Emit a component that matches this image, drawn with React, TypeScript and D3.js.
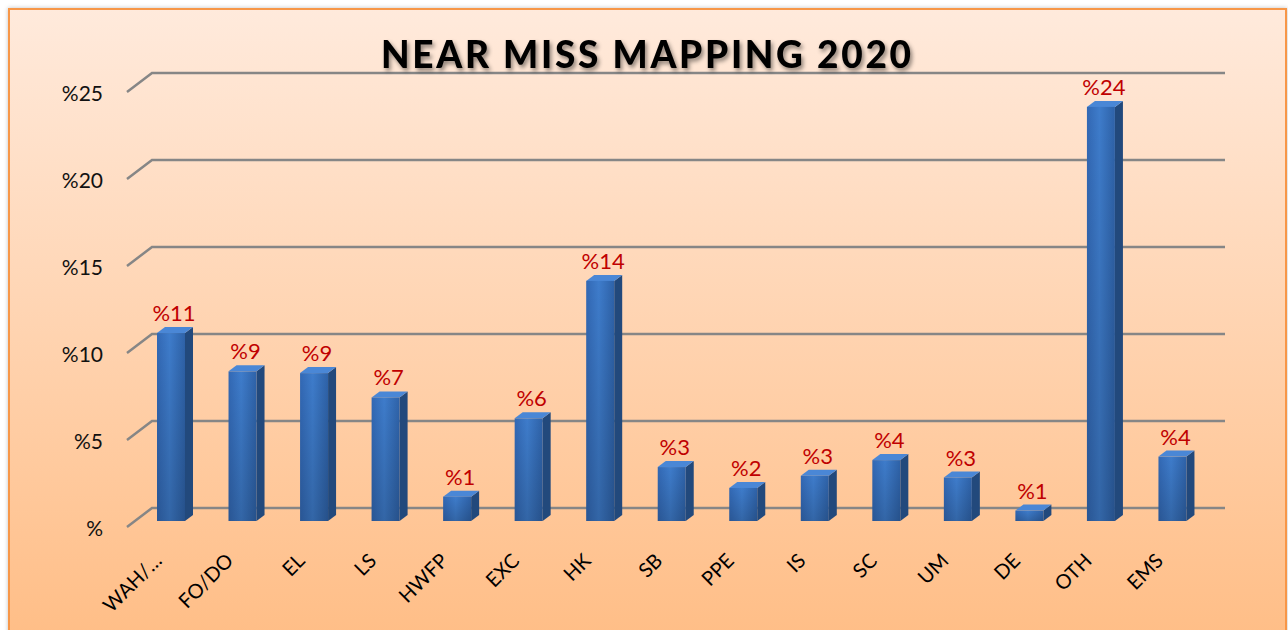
import React, { useEffect, useRef } from "react";
import * as d3 from "d3";

const title = "NEAR MISS MAPPING 2020";
const categories = ["WAH/…", "FO/DO", "EL", "LS", "HWFP", "EXC", "HK", "SB", "PPE", "IS", "SC", "UM", "DE", "OTH", "EMS"];
const values = [10.8, 8.6, 8.5, 7.1, 1.4, 5.9, 13.8, 3.1, 1.9, 2.6, 3.5, 2.5, 0.6, 23.8, 3.7];
const yTicks = [0, 5, 10, 15, 20, 25];

const App = () => {
    const svgRef = useRef(null);

    useEffect(() => {
        const width = 1288, height = 630;
        const font = "Lato, 'Open Sans', sans-serif";

        // back wall of the 3d plot, floor depth shown by the slanted lines
        const back = { left: 152, right: 1225, top: 73, bottom: 508 };
        const depth = { dx: -25, dy: 19 };
        const barDrop = 13; // bars sit this much below the back floor line
        const bar = { offset: 5, w: 28, dx: 8, dy: -6 };

        const svg = d3.select(svgRef.current)
            .attr("width", width)
            .attr("height", height);

        svg.selectAll("*").remove();

        const defs = svg.append("defs");

        const bg = defs.append("linearGradient").attr("id", "bg").attr("x1", 0).attr("y1", 0).attr("x2", 0).attr("y2", 1);
        bg.append("stop").attr("offset", "0%").attr("stop-color", "#ffeadc");
        bg.append("stop").attr("offset", "100%").attr("stop-color", "#ffbd85");

        const front = defs.append("linearGradient").attr("id", "barFront").attr("x1", 0).attr("y1", 0).attr("x2", 1).attr("y2", 0);
        front.append("stop").attr("offset", "0%").attr("stop-color", "#3268b4");
        front.append("stop").attr("offset", "45%").attr("stop-color", "#3e7ccb");
        front.append("stop").attr("offset", "100%").attr("stop-color", "#2e62a8");

        const shade = defs.append("linearGradient").attr("id", "barShade").attr("x1", 0).attr("y1", 0).attr("x2", 0).attr("y2", 1);
        shade.append("stop").attr("offset", "0%").attr("stop-color", "#000").attr("stop-opacity", 0);
        shade.append("stop").attr("offset", "100%").attr("stop-color", "#000").attr("stop-opacity", 0.18);

        const ds = defs.append("filter").attr("id", "titleShadow").attr("x", "-10%").attr("y", "-30%").attr("width", "120%").attr("height", "160%");
        ds.append("feDropShadow").attr("dx", 2).attr("dy", 3).attr("stdDeviation", 2)
            .attr("flood-color", "#000").attr("flood-opacity", 0.45);

        const boxShadow = defs.append("filter").attr("id", "boxShadow").attr("x", "-2%").attr("y", "-2%").attr("width", "104%").attr("height", "104%");
        boxShadow.append("feDropShadow").attr("dx", 0).attr("dy", 0).attr("stdDeviation", 2)
            .attr("flood-color", "#000").attr("flood-opacity", 0.25);

        svg.append("rect")
            .attr("x", 9).attr("y", 9)
            .attr("width", 1277).attr("height", 640)
            .attr("fill", "url(#bg)")
            .attr("stroke", "#f79646")
            .attr("stroke-width", 2)
            .attr("filter", "url(#boxShadow)");

        const xScale = d3.scaleBand()
            .domain(categories)
            .range([back.left, back.right])
            .padding(0);

        const yScale = d3.scaleLinear()
            .domain([0, 25])
            .range([back.bottom, back.top]);

        // gridlines with the slanted floor edge on the left
        const grid = svg.append("g");
        grid.selectAll("path")
            .data(yTicks)
            .enter()
            .append("path")
            .attr("d", d => {
                const y = yScale(d);
                return `M${back.left + depth.dx},${y + depth.dy} L${back.left},${y} L${back.right},${y}`;
            })
            .attr("fill", "none")
            .attr("stroke", "#868686")
            .attr("stroke-width", 2.5);

        grid.selectAll("text")
            .data(yTicks)
            .enter()
            .append("text")
            .attr("x", 103)
            .attr("y", d => yScale(d) + depth.dy + 9)
            .attr("text-anchor", "end")
            .attr("font-family", font)
            .attr("font-size", 21)
            .attr("fill", "#111")
            .text(d => "%" + (d === 0 ? "" : d));

        // title
        svg.append("text")
            .attr("x", 646)
            .attr("y", 68)
            .attr("text-anchor", "middle")
            .attr("font-family", font)
            .attr("font-weight", 900)
            .attr("font-size", 37)
            .attr("textLength", 530)
            .attr("lengthAdjust", "spacing")
            .attr("fill", "#000")
            .attr("filter", "url(#titleShadow)")
            .text(title);

        const barData = categories.map((c, i) => ({ c, v: values[i] }));
        const baseY = back.bottom + barDrop;
        const topY = v => yScale(v) + barDrop;

        const bars = svg.append("g")
            .selectAll("g")
            .data(barData)
            .enter()
            .append("g");

        // side face
        bars.append("path")
            .attr("d", d => {
                const x1 = xScale(d.c) + bar.offset + bar.w, t = topY(d.v);
                return `M${x1},${t} L${x1 + bar.dx},${t + bar.dy} L${x1 + bar.dx},${baseY + bar.dy} L${x1},${baseY} Z`;
            })
            .attr("fill", "#22497c");

        // top face
        bars.append("path")
            .attr("d", d => {
                const x0 = xScale(d.c) + bar.offset, t = topY(d.v);
                return `M${x0},${t} L${x0 + bar.dx},${t + bar.dy} L${x0 + bar.w + bar.dx},${t + bar.dy} L${x0 + bar.w},${t} Z`;
            })
            .attr("fill", "#4a87d6");

        // front face
        bars.append("rect")
            .attr("x", d => xScale(d.c) + bar.offset)
            .attr("y", d => topY(d.v))
            .attr("width", bar.w)
            .attr("height", d => baseY - topY(d.v))
            .attr("fill", "url(#barFront)");

        bars.append("rect")
            .attr("x", d => xScale(d.c) + bar.offset)
            .attr("y", d => topY(d.v))
            .attr("width", bar.w)
            .attr("height", d => baseY - topY(d.v))
            .attr("fill", "url(#barShade)");

        // value labels
        svg.append("g")
            .selectAll("text")
            .data(barData)
            .enter()
            .append("text")
            .attr("x", d => xScale(d.c) + bar.offset + bar.w / 2 + 3)
            .attr("y", d => topY(d.v) + bar.dy - 6)
            .attr("text-anchor", "middle")
            .attr("font-family", font)
            .attr("font-size", 22)
            .attr("fill", "#c00000")
            .text(d => "%" + Math.round(d.v));

        // category labels, rotated
        svg.append("g")
            .selectAll("text")
            .data(categories)
            .enter()
            .append("text")
            .attr("transform", d => `translate(${xScale(d) + 11},${562}) rotate(-45)`)
            .attr("text-anchor", "end")
            .attr("font-family", font)
            .attr("font-size", 20)
            .attr("fill", "#000")
            .text(d => d);

    }, []);

    return <svg ref={svgRef} style={{ position: "absolute", left: 0, top: 0, display: "block" }}></svg>;
};

export default App;
